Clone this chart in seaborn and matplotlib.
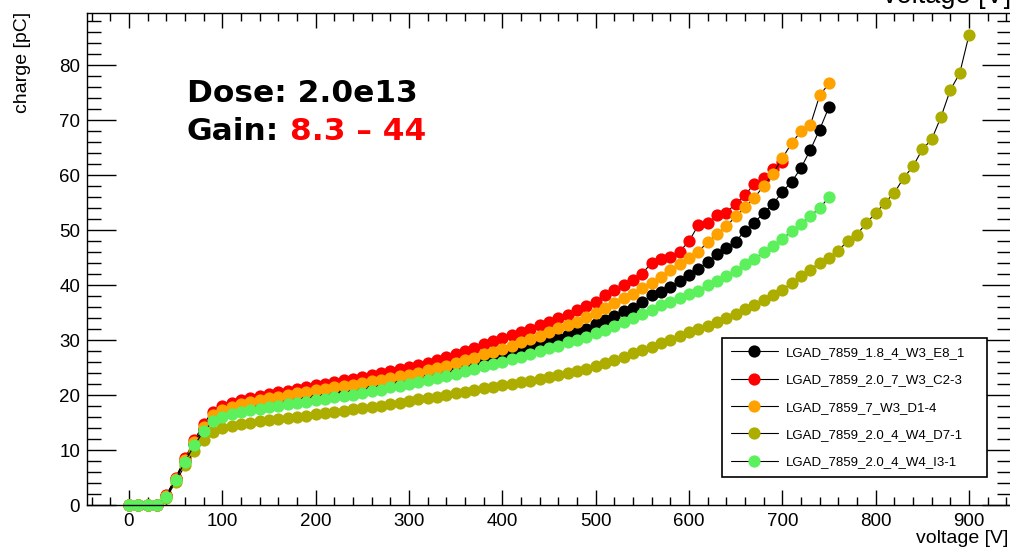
import matplotlib
matplotlib.use("Agg")
import matplotlib.pyplot as plt
import pandas as pd
import seaborn as sns
from matplotlib.ticker import MultipleLocator

# ---------------- data ----------------
volt_750 = list(range(0, 760, 10))
volt_700 = list(range(0, 710, 10))
volt_900 = list(range(0, 910, 10))

q_black = [0, 0, 0, 0,
           1.6, 4.7, 8.0, 11.1, 13.8, 15.7, 16.5,
           17.0, 17.4, 17.7, 18.0, 18.3, 18.6, 18.9, 19.2, 19.5, 19.8,
           20.1, 20.4, 20.7, 21.0, 21.3, 21.6, 21.9, 22.3, 22.6, 23.0,
           23.4, 23.8, 24.2, 24.6, 25.0, 25.4, 25.8, 26.2, 26.6, 27.0,
           27.4, 28.0, 28.5, 29.1, 29.7, 30.3, 30.9, 31.5, 32.1, 32.9,
           33.6, 34.4, 35.2, 35.9, 37.0, 38.2, 38.8, 39.7, 40.8, 41.8,
           43.0, 44.2, 45.6, 46.7, 47.9, 49.9, 51.3, 53.2, 54.7, 57.0,
           58.8, 61.3, 64.6, 68.3, 72.4]

q_red = [0, 0, 0, 0,
         1.8, 5.0, 8.5, 11.8, 14.8, 17.0, 18.0,
         18.6, 19.1, 19.5, 19.9, 20.2, 20.5, 20.8, 21.1, 21.5, 21.8,
         22.1, 22.4, 22.7, 23.0, 23.3, 23.6, 24.0, 24.3, 24.7, 25.1,
         25.5, 25.9, 26.4, 26.9, 27.5, 28.0, 28.6, 29.2, 29.8, 30.3,
         30.9, 31.5, 32.1, 32.7, 33.3, 34.1, 34.5, 35.5, 36.2, 37.0,
         38.2, 39.1, 40.0, 41.0, 42.1, 44.1, 44.7, 45.1, 46.1, 48.0,
         50.9, 51.3, 52.7, 53.2, 54.8, 56.4, 58.4, 59.4, 61.2, 62.4]

q_orange = [0, 0, 0, 0,
            1.7, 4.8, 8.2, 11.4, 14.2, 16.3, 17.2,
            17.8, 18.3, 18.7, 19.1, 19.4, 19.7, 20.0, 20.3, 20.6, 20.9,
            21.1, 21.4, 21.6, 21.9, 22.2, 22.5, 22.8, 23.1, 23.4, 23.7,
            24.1, 24.5, 24.9, 25.3, 25.8, 26.3, 26.8, 27.4, 27.9, 28.4,
            28.9, 29.6, 30.2, 30.8, 31.4, 32.2, 32.7, 33.3, 34.2, 35.0,
            35.9, 36.7, 37.6, 38.4, 39.4, 40.3, 41.5, 42.7, 43.9, 45.0,
            46.1, 47.8, 49.3, 50.7, 52.5, 54.2, 55.9, 58.0, 60.3, 63.1,
            65.8, 68.0, 69.1, 74.5, 76.7]

q_olive = [0, 0, 0, 0,
           1.3, 4.2, 7.2, 9.8, 11.8, 13.2, 14.0,
           14.4, 14.7, 15.0, 15.2, 15.4, 15.6, 15.8, 16.0, 16.2, 16.5,
           16.7, 16.9, 17.1, 17.4, 17.6, 17.9, 18.1, 18.4, 18.6, 18.9,
           19.2, 19.4, 19.7, 20.0, 20.3, 20.6, 20.9, 21.2, 21.5, 21.8,
           22.0, 22.3, 22.6, 22.9, 23.2, 23.6, 24.0, 24.4, 24.8, 25.2,
           25.8, 26.4, 27.0, 27.6, 28.2, 28.8, 29.5, 30.1, 30.8, 31.5,
           32.0, 32.6, 33.3, 34.0, 34.8, 35.6, 36.4, 37.3, 38.2, 39.2,
           40.4, 41.6, 42.8, 44.1, 45.0, 46.2, 48.1, 49.2, 51.3, 53.1,
           55.0, 56.8, 59.5, 61.6, 64.7, 66.5, 70.6, 75.5, 78.5, 85.5]

q_green = [0, 0, 0, 0,
           1.5, 4.6, 7.9, 10.9, 13.4, 15.2, 16.0,
           16.5, 16.9, 17.2, 17.5, 17.8, 18.1, 18.3, 18.5, 18.8, 19.1,
           19.3, 19.6, 19.8, 20.1, 20.3, 20.7, 21.0, 21.4, 21.7, 22.1,
           22.4, 22.8, 23.1, 23.5, 23.9, 24.3, 24.7, 25.2, 25.6, 26.1,
           26.5, 27.0, 27.5, 28.0, 28.5, 29.0, 29.6, 30.1, 30.6, 31.2,
           31.8, 32.5, 33.2, 34.0, 34.8, 35.5, 36.3, 37.0, 37.7, 38.3,
           39.0, 40.0, 40.8, 41.6, 42.6, 43.8, 44.7, 46.1, 47.1, 48.3,
           49.9, 51.1, 52.6, 54.0, 56.0]

series_names = ["LGAD_7859_1.8_4_W3_E8_1",
                "LGAD_7859_2.0_7_W3_C2-3",
                "LGAD_7859_7_W3_D1-4",
                "LGAD_7859_2.0_4_W4_D7-1",
                "LGAD_7859_2.0_4_W4_I3-1"]
series_x = [volt_750, volt_700, volt_750, volt_900, volt_750]
series_y = [q_black, q_red, q_orange, q_olive, q_green]
series_colors = ["#000000", "#ff0000", "#ffa200", "#adad00", "#5cf05c"]

x_ticks = [0, 100, 200, 300, 400, 500, 600, 700, 800, 900]
y_ticks = [0, 10, 20, 30, 40, 50, 60, 70, 80]

# ---------------- figure ----------------
sns.set_style("ticks", rc={"axes.edgecolor": "black", "text.color": "black",
                           "xtick.color": "black", "ytick.color": "black",
                           "axes.labelcolor": "black"})
plt.rcParams["font.family"] = ["Liberation Sans", "DejaVu Sans"]

W, H = 1010, 550
fig = plt.figure(figsize=(W / 100, H / 100), dpi=100)
ax = fig.add_axes([87 / W, 45 / H, (1011 - 87) / W, (505 - 13) / H])

for name, xs, ys, col in zip(series_names, series_x, series_y, series_colors):
    df = pd.DataFrame({"voltage": xs, "charge": ys})
    sns.lineplot(data=df, x="voltage", y="charge", ax=ax, color="black",
                 linewidth=0.8, marker="o", markersize=8.8,
                 markerfacecolor=col, markeredgecolor=col,
                 markeredgewidth=0, label=name, clip_on=False,
                 errorbar=None, sort=False)

ax.set_xlim(-45, 945)
ax.set_ylim(0, 89.5)
ax.set_xticks(x_ticks)
ax.set_yticks(y_ticks)
ax.set_xticklabels([str(t) for t in x_ticks])
ax.set_yticklabels([str(t) for t in y_ticks])
ax.xaxis.set_minor_locator(MultipleLocator(20))
ax.yaxis.set_minor_locator(MultipleLocator(2))
ax.set_xlabel("")
ax.set_ylabel("")

for sp in ax.spines.values():
    sp.set_visible(True)
    sp.set_linewidth(1.0)
    sp.set_color("black")

ax.tick_params(axis="x", which="major", direction="in", length=10.8, width=1.0,
               top=True, bottom=True, labelsize=13.5, pad=5.5, colors="black")
ax.tick_params(axis="x", which="minor", direction="in", length=5.8, width=1.0,
               top=True, bottom=True, colors="black")
ax.tick_params(axis="y", which="major", direction="in", length=20.9, width=1.0,
               left=True, right=True, labelsize=13.5, pad=5, colors="black")
ax.tick_params(axis="y", which="minor", direction="in", length=10, width=1.0,
               left=True, right=True, colors="black")

# axis titles (ROOT style)
fig.text(1008 / W, 1 - 543 / H, "voltage [V]", fontsize=14, ha="right",
         va="baseline", color="black")
fig.text(23 / W, 1 - 12 / H, "charge [pC]", fontsize=14, rotation=90,
         ha="center", va="top", color="black")
fig.text(883 / W, 1 - 3 / H, "voltage [V]", fontsize=19.5, ha="left",
         va="baseline", color="black")

# annotation
fig.text(187 / W, 1 - 102 / H, "Dose: 2.0e13", fontsize=22.5, color="black",
         fontweight="bold", family=["DejaVu Sans"], va="baseline", ha="left")
fig.text(187 / W, 1 - 140 / H, "Gain:", fontsize=22.5, color="black",
         fontweight="bold", family=["DejaVu Sans"], va="baseline", ha="left")
fig.text(290 / W, 1 - 140 / H, "8.3 \u2013 44", fontsize=22.5, color="#ff0000",
         fontweight="bold", family=["DejaVu Sans"], va="baseline", ha="left")

# legend
leg = ax.legend(loc="upper left",
                bbox_to_anchor=(722 / W, 1 - 493 / H, (987 - 722) / W, (493 - 338) / H),
                bbox_transform=fig.transFigure, mode="expand",
                borderaxespad=0, fancybox=False, frameon=True,
                framealpha=1, edgecolor="black", fontsize=9.5,
                handlelength=3.6, handletextpad=0.6, labelspacing=1.15,
                borderpad=0.65)
leg.get_frame().set_linewidth(1.2)
for t in leg.get_texts():
    t.set_color("black")

fig.savefig("out.png", dpi=100)
